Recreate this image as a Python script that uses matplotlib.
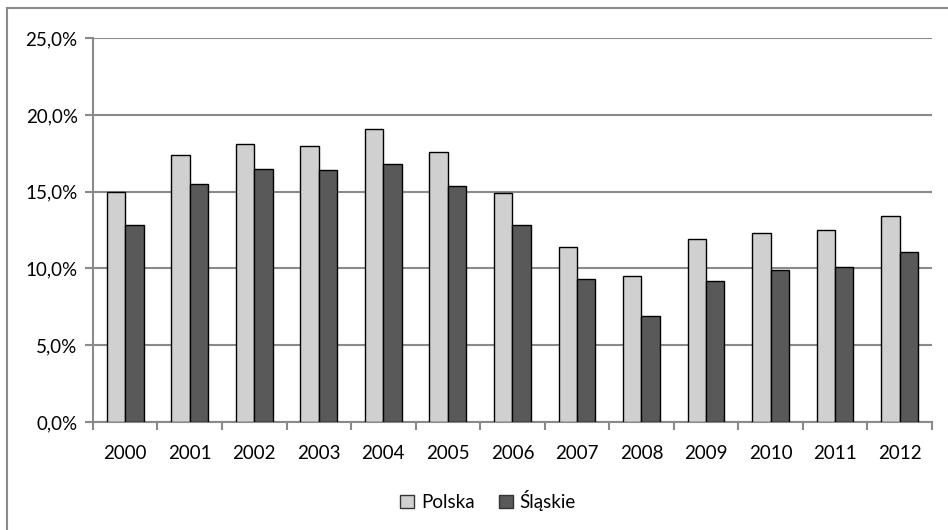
import numpy as np
import matplotlib
matplotlib.use("Agg")
import matplotlib.pyplot as plt
from matplotlib.lines import Line2D
from matplotlib.ticker import FuncFormatter, FixedLocator

years = ["2000", "2001", "2002", "2003", "2004", "2005", "2006",
         "2007", "2008", "2009", "2010", "2011", "2012"]
polska = [15.0, 17.4, 18.1, 18.0, 19.1, 17.6, 14.9, 11.4, 9.5, 11.9, 12.3, 12.5, 13.4]
slaskie = [12.8, 15.5, 16.5, 16.4, 16.8, 15.4, 12.8, 9.3, 6.9, 9.2, 9.9, 10.1, 11.1]
series_labels = ["Polska", "Śląskie"]

plt.rcParams["font.family"] = ["Lato", "DejaVu Sans"]
GRID = "#8a8a8a"
FS = 13.5

fig = plt.figure(figsize=(9.48, 5.30), dpi=100)
ax = fig.add_axes([0.098, 0.204, 0.885, 0.724])

x = np.arange(len(years))
w = 0.285
ax.bar(x - w / 2, polska, w, color="#d0d0d0", edgecolor="black", linewidth=1.0,
       label=series_labels[0], zorder=3)
ax.bar(x + w / 2, slaskie, w, color="#595959", edgecolor="black", linewidth=1.0,
       label=series_labels[1], zorder=3)

ax.set_xlim(-0.5, len(years) - 0.5)
ax.set_ylim(0, 25)
ax.set_yticks(np.arange(0, 25.1, 5))
ax.yaxis.set_major_formatter(FuncFormatter(lambda v, _: f"{v:.1f}%".replace(".", ",")))
ax.yaxis.grid(True, color=GRID, linewidth=1.5, zorder=0)

ax.set_xticks(x)
ax.set_xticklabels(years)
ax.xaxis.set_minor_locator(FixedLocator(np.arange(-0.5, len(years), 1.0)))
ax.tick_params(axis="x", which="major", length=0, pad=17, labelsize=FS)
ax.tick_params(axis="x", which="minor", length=6, width=1.5, color=GRID)
ax.tick_params(axis="y", length=6, width=1.5, color=GRID, labelsize=FS, pad=5)

for side in ("top", "right"):
    ax.spines[side].set_visible(False)
for side in ("left", "bottom"):
    ax.spines[side].set_color(GRID)
    ax.spines[side].set_linewidth(1.5)

leg = ax.legend(loc="center", bbox_to_anchor=(0.471, -0.205), ncol=2, frameon=False,
                fontsize=FS, handlelength=0.75, handleheight=0.75,
                handletextpad=0.35, columnspacing=1.3)
for h in leg.legend_handles:
    h.set_edgecolor("#333333")

# chart frame (left and top edges)
fig.add_artist(Line2D([0.0074, 0.0074], [0.0, 0.985], color=GRID, linewidth=1.5))
fig.add_artist(Line2D([0.0074, 1.0], [0.985, 0.985], color=GRID, linewidth=1.5))

fig.savefig("out.png", dpi=100)
